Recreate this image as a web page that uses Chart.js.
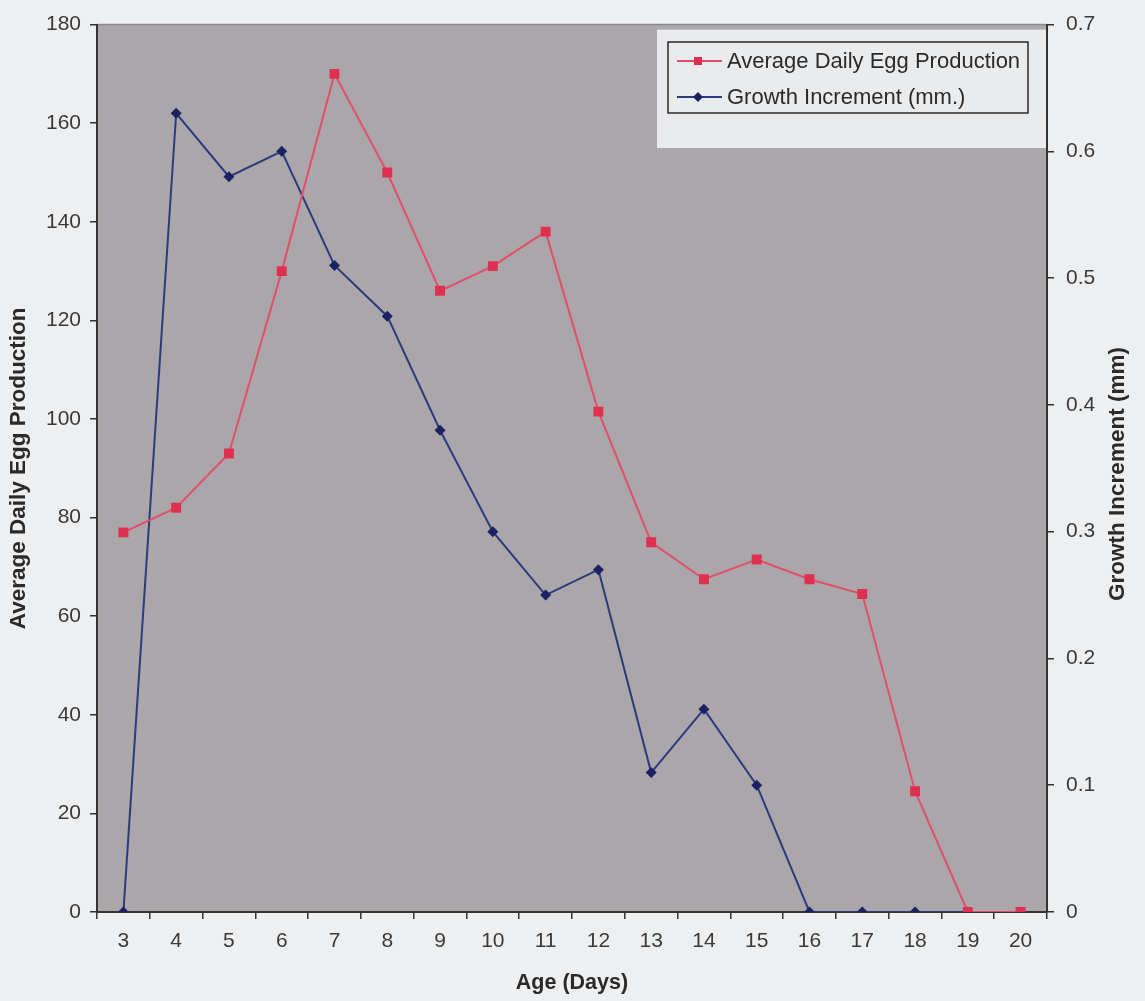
<!DOCTYPE html>
<html>
<head>
<meta charset="utf-8">
<script src="https://cdn.jsdelivr.net/npm/chart.js@4.4.1/dist/chart.umd.min.js"></script>
<style>
  html, body { margin: 0; padding: 0; background: #edeff1; }
  #wrap { width: 1145px; height: 1001px; }
</style>
</head>
<body>
<div id="wrap"><canvas id="c" width="1145" height="1001"></canvas></div>
<script>
const ages = ['3','4','5','6','7','8','9','10','11','12','13','14','15','16','17','18','19','20'];
const eggProduction = [77, 82, 93, 130, 170, 150, 126, 131, 138, 101.5, 75, 67.5, 71.5, 67.5, 64.5, 24.5, 0, 0];
const growthIncrement = [0, 0.63, 0.58, 0.60, 0.51, 0.47, 0.38, 0.30, 0.25, 0.27, 0.11, 0.16, 0.10, 0, 0, 0, 0, 0];
const eggLabel = 'Average Daily Egg Production';
const growthLabel = 'Growth Increment (mm.)';
const leftTitle = 'Average Daily Egg Production';
const rightTitle = 'Growth Increment (mm)';
const xTitle = 'Age (Days)';
const leftTicks = {min: 0, max: 180, step: 20};
const rightTicks = {min: 0, max: 0.7, step: 0.1};

const FONT = "'Liberation Sans', Arial, sans-serif";
const AXIS = '#333333';

const bgPlugin = {
  id: 'bg',
  beforeDraw(chart) {
    const {ctx, chartArea: a} = chart;
    ctx.save();
    ctx.fillStyle = '#aaa6a9';
    ctx.fillRect(a.left, a.top, a.right - a.left, a.bottom - a.top);
    ctx.strokeStyle = '#8a8a8e';
    ctx.lineWidth = 1.5;
    ctx.beginPath();
    ctx.moveTo(a.left, a.top);
    ctx.lineTo(a.right, a.top);
    ctx.stroke();
    ctx.restore();
  },
  beforeDatasetsDraw(chart) {
    const {ctx, chartArea: a} = chart;
    ctx.save();
    const x0 = 657, y0 = a.top + 5, x1 = a.right - 1, y1 = 148;
    ctx.fillStyle = '#e9ebed';
    ctx.fillRect(x0, y0, x1 - x0, y1 - y0);
    ctx.strokeStyle = '#2a2a2a';
    ctx.lineWidth = 1.5;
    ctx.strokeRect(668, 42, 360, 71);
    const items = chart.data.datasets;
    const ys = [61, 97];
    ctx.font = '22px ' + FONT;
    ctx.textBaseline = 'middle';
    ctx.textAlign = 'left';
    items.forEach((ds, i) => {
      const y = ys[i];
      ctx.strokeStyle = ds.borderColor;
      ctx.lineWidth = 2;
      ctx.beginPath();
      ctx.moveTo(677, y);
      ctx.lineTo(722, y);
      ctx.stroke();
      ctx.fillStyle = ds.pointBackgroundColor;
      ctx.beginPath();
      if (ds.pointStyle === 'rect') {
        ctx.rect(694, y - 4, 8, 8);
      } else {
        ctx.moveTo(698, y - 5); ctx.lineTo(703, y); ctx.lineTo(698, y + 5); ctx.lineTo(693, y);
        ctx.closePath();
      }
      ctx.fill();
      ctx.fillStyle = '#2a2a2a';
      ctx.fillText(ds.label, 727, y + 1);
    });
    ctx.restore();
  },
  afterDraw(chart) {
    const {ctx} = chart;
    ctx.save();
    ctx.translate(1118, 474);
    ctx.rotate(-Math.PI / 2);
    ctx.font = 'bold 22.5px ' + FONT;
    ctx.fillStyle = '#2a2a2a';
    ctx.textAlign = 'center';
    ctx.textBaseline = 'middle';
    ctx.fillText(rightTitle, 0, 0);
    ctx.restore();
  }
};

new Chart(document.getElementById('c'), {
  type: 'line',
  data: {
    labels: ages,
    datasets: [
      {
        label: eggLabel,
        data: eggProduction,
        yAxisID: 'y',
        borderColor: '#e0506c',
        backgroundColor: '#e0304f',
        pointBackgroundColor: '#e0304f',
        pointBorderColor: '#e0304f',
        pointStyle: 'rect',
        pointRadius: 7,
        pointBorderWidth: 0,
        borderWidth: 2,
        tension: 0
      },
      {
        label: growthLabel,
        data: growthIncrement,
        yAxisID: 'y1',
        borderColor: '#2c3a7e',
        backgroundColor: '#1a2264',
        pointBackgroundColor: '#1a2264',
        pointBorderColor: '#1a2264',
        pointStyle: 'rectRot',
        pointRadius: 5.5,
        pointBorderWidth: 0,
        borderWidth: 2,
        tension: 0
      }
    ]
  },
  options: {
    responsive: false,
    animation: false,
    layout: { padding: { top: 20, left: 0, right: 0, bottom: 0 } },
    plugins: {
      legend: { display: false },
      tooltip: { enabled: false }
    },
    scales: {
      x: {
        type: 'category',
        offset: true,
        afterFit(s) { s.height = 89; },
        grid: { offset: true, drawOnChartArea: false, drawTicks: true, tickLength: 7, color: AXIS, lineWidth: 1.5 },
        border: { display: true, color: AXIS, width: 2 },
        ticks: { color: '#3a3a3a', font: { family: FONT, size: 21 }, padding: 10, maxRotation: 0, autoSkip: false },
        title: { display: true, text: xTitle, color: '#2a2a2a', font: { family: FONT, size: 21.5, weight: 'bold' }, padding: { top: 0, bottom: 5 } }
      },
      y: {
        position: 'left',
        min: leftTicks.min, max: leftTicks.max,
        afterFit(s) { s.width = 97; },
        grid: { drawOnChartArea: false, drawTicks: true, tickLength: 7, color: AXIS, lineWidth: 1.5 },
        border: { display: true, color: AXIS, width: 2 },
        ticks: { stepSize: leftTicks.step, color: '#3a3a3a', font: { family: FONT, size: 21 }, padding: 9 },
        title: { display: true, text: leftTitle, color: '#2a2a2a', font: { family: FONT, size: 22.5, weight: 'bold' }, padding: { top: 5, bottom: 0 } }
      },
      y1: {
        position: 'right',
        min: rightTicks.min, max: rightTicks.max,
        afterFit(s) { s.width = 98; },
        grid: { drawOnChartArea: false, drawTicks: true, tickLength: 7, color: AXIS, lineWidth: 1.5 },
        border: { display: true, color: AXIS, width: 2 },
        ticks: { stepSize: rightTicks.step, color: '#3a3a3a', font: { family: FONT, size: 21 }, padding: 12,
          callback: v => (Math.round(v * 10) / 10).toString() },
        title: { display: false }
      }
    }
  },
  plugins: [bgPlugin]
});
</script>
</body>
</html>
